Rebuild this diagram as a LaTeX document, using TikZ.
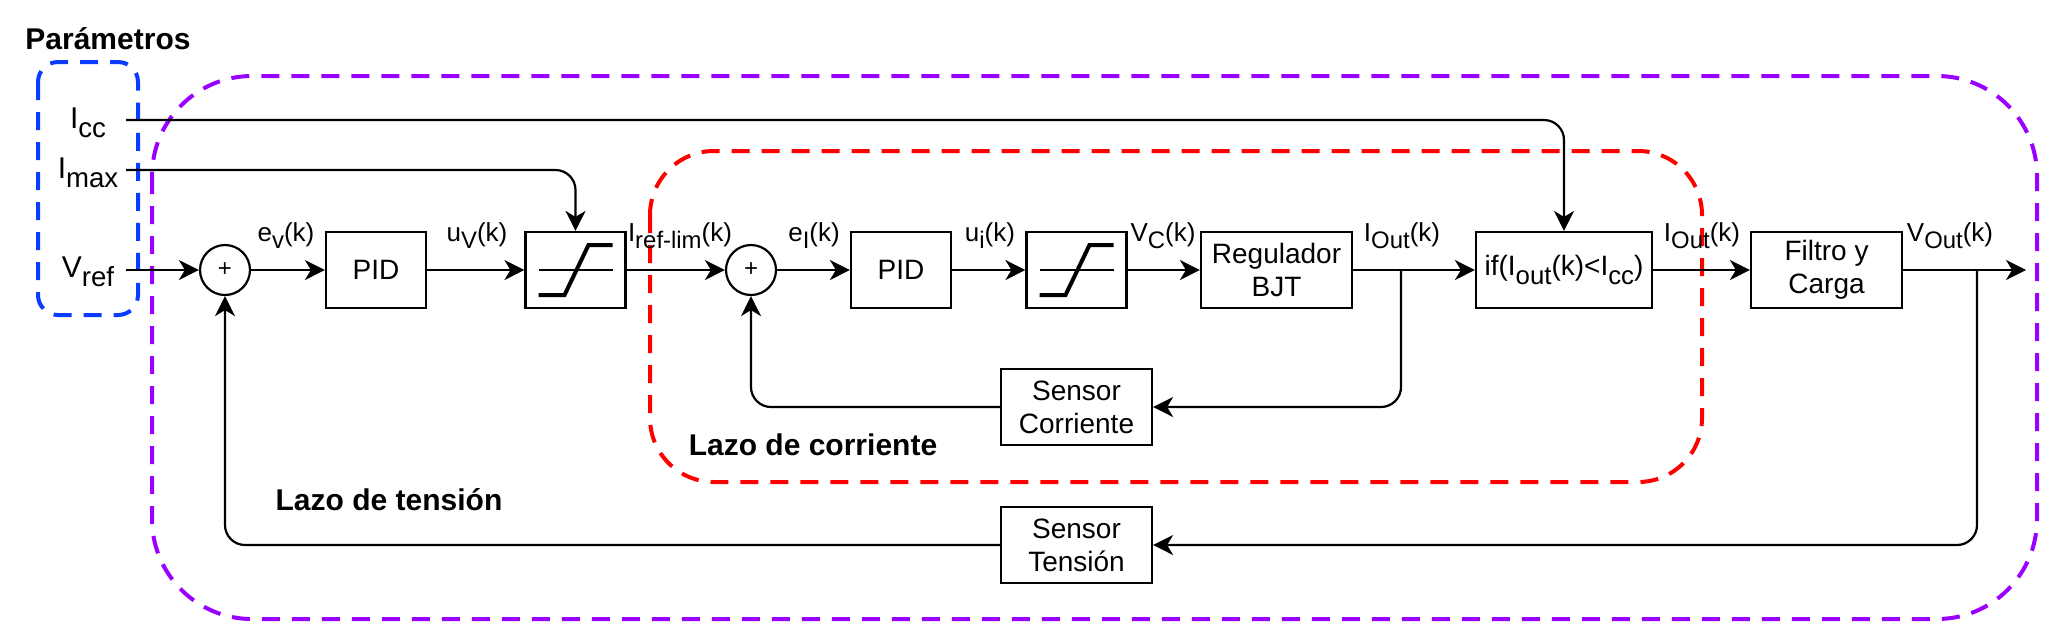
\documentclass[tikz,border=0pt]{standalone}
\usepackage{fontspec}
\setmainfont{Liberation Sans}
\usetikzlibrary{arrows.meta}
\definecolor{vblue}{HTML}{0A3CFF}
\definecolor{vpurple}{HTML}{9900FF}
\definecolor{vred}{HTML}{FF0000}
\newcommand{\sbs}[1]{\raisebox{-0.3em}{\scalebox{0.92}{#1}}}
\begin{document}
\begin{tikzpicture}[x=0.5pt,y=-0.5pt,
  blk/.style={draw, line width=1.1pt, minimum height=38pt, inner sep=0pt, align=center, font=\fontsize{14}{16.5}\selectfont},
  sumc/.style={draw, circle, line width=1.1pt, minimum size=25pt, inner sep=0pt, font=\fontsize{12}{14}\selectfont},
  con/.style={line width=1.1pt, -{Stealth[length=10pt,width=10pt,inset=3pt]}, rounded corners=10pt},
  sig/.style={font=\fontsize{13}{15}\selectfont, inner sep=0pt, anchor=base},
  prm/.style={font=\fontsize{15}{17}\selectfont, inner sep=0pt, anchor=base},
  loopbox/.style={line width=2pt, dash pattern=on 9pt off 6pt},
  ttl/.style={font=\bfseries\fontsize{15}{17}\selectfont, inner sep=0pt}
]
\useasboundingbox (0,0) rectangle (2048,623);

% loop frames
\draw[loopbox, vpurple, rounded corners=50pt] (152,76) rectangle (2037,619);
\draw[loopbox, vred, rounded corners=32pt] (650,151) rectangle (1702,482);
\draw[loopbox, vblue, rounded corners=10pt] (38,62) rectangle (138,315);

% titles
\node[ttl] (tpar) at (108,39) {Parámetros};
\node[ttl] (tcor) at (813,445) {Lazo de corriente};
\node[ttl] (tten) at (389,500) {Lazo de tensión};

% parameters
\node[prm] (picc) at (88,128) {I\sbs{cc}};
\node[prm] (pmax) at (88,178) {I\sbs{max}};
\node[prm] (pref) at (88,277) {V\sbs{ref}};
\coordinate (icc) at (126,120);
\coordinate (imax) at (126,170);
\coordinate (vref) at (126,270);

% blocks
\node[sumc] (s1) at (225,270) {+};
\node[blk, minimum width=50pt] (pid1) at (376,270) {PID};
\node[blk, minimum width=50pt] (sat1) at (575.5,270) {};
\node[sumc] (s2) at (751,270) {+};
\node[blk, minimum width=50pt] (pid2) at (901,270) {PID};
\node[blk, minimum width=50pt] (sat2) at (1076.5,270) {};
\node[blk, minimum width=75.5pt] (bjt) at (1276.5,270) {Regulador\\BJT};
\node[blk, minimum width=88pt] (iff) at (1564,270) {if(I\sbs{out}(k)<I\sbs{cc})};
\node[blk, minimum width=75.5pt] (fil) at (1826.5,270) {Filtro y\\Carga};
\node[blk, minimum width=75.5pt] (senc) at (1076.5,407) {Sensor\\Corriente};
\node[blk, minimum width=75.5pt] (sent) at (1076.5,545) {Sensor\\Tensión};
\coordinate (out) at (2026,270);
\coordinate (bc) at (1401,270);
\coordinate (bv) at (1977,270);

% saturation symbols
\foreach \n in {sat1,sat2}{
  \begin{scope}[shift={(\n.center)}]
    \draw[line width=1pt] (-37,0) -- (37,0);
    \draw[line width=2pt] (-37,25) -- (-11,25) -- (13,-25) -- (37,-25);
  \end{scope}
}

% signal labels
\node[sig] (lev) at (286,241) {e\sbs{v}(k)};
\node[sig] (luv) at (477,241) {u\sbs{V}(k)};
\node[sig] (lir) at (680,241) {I\sbs{ref-lim}(k)};
\node[sig] (lei) at (814,241) {e\sbs{I}(k)};
\node[sig] (lui) at (990,241) {u\sbs{i}(k)};
\node[sig] (lvc) at (1163,241) {V\sbs{C}(k)};
\node[sig] (lio1) at (1402,241) {I\sbs{Out}(k)};
\node[sig] (lio2) at (1702,241) {I\sbs{Out}(k)};
\node[sig] (lvo) at (1950,241) {V\sbs{Out}(k)};

% connectors
\draw[con] (vref) -- (s1);
\draw[con] (s1) -- (pid1);
\draw[con] (pid1) -- (sat1);
\draw[con] (sat1) -- (s2);
\draw[con] (s2) -- (pid2);
\draw[con] (pid2) -- (sat2);
\draw[con] (sat2) -- (bjt);
\draw[con] (bjt) -- (iff);
\draw[con] (iff) -- (fil);
\draw[con] (fil) -- (out);
\draw[con] (icc) -| (iff.north);
\draw[con] (imax) -| (sat1.north);
\draw[con] (bc) |- (senc.east);
\draw[con] (senc.west) -| (s2.south);
\draw[con] (bv) |- (sent.east);
\draw[con] (sent.west) -| (s1.south);
\end{tikzpicture}
\end{document}
